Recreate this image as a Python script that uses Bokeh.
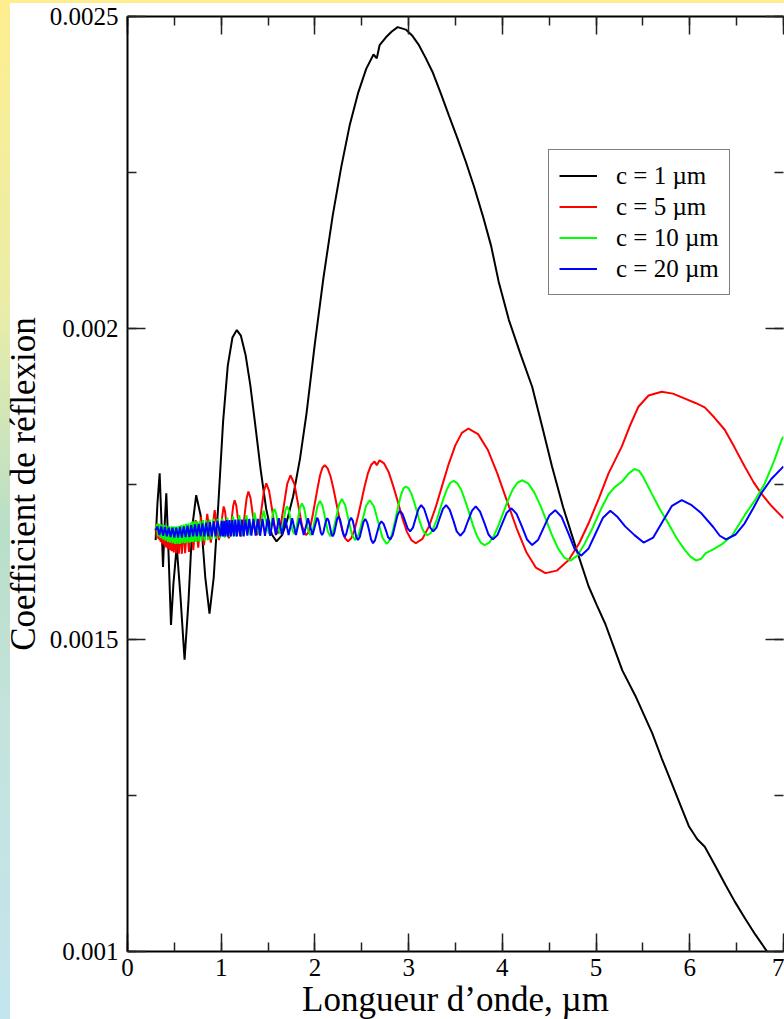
from bokeh.plotting import figure
from bokeh.models import (Range1d, LinearAxis, SingleIntervalTicker,
                          CustomJSTickFormatter, Legend, LegendItem)
from bokeh.embed import file_html
from bokeh.resources import INLINE

FONT = "Liberation Serif"

# ---------------- data ----------------
series_labels = ["c = 1 µm", "c = 5 µm", "c = 10 µm", "c = 20 µm"]
series_colors = ["#000000", "#ff0000", "#00ff00", "#0000ff"]

c1_x = [0.300, 0.320, 0.343, 0.360, 0.379, 0.395, 0.414, 0.440, 0.464, 0.490,
        0.525, 0.565, 0.609, 0.650, 0.690, 0.733, 0.780, 0.830, 0.875, 0.920,
        0.970, 1.020, 1.070, 1.120, 1.166, 1.210, 1.260, 1.310, 1.360, 1.420,
        1.480, 1.540, 1.590, 1.650, 1.700, 1.767, 1.840, 1.910, 2.000, 2.090,
        2.190, 2.280, 2.370, 2.460, 2.547, 2.625, 2.660, 2.690, 2.760, 2.820,
        2.883, 2.970, 3.040, 3.110, 3.180, 3.255, 3.340, 3.430, 3.520, 3.610,
        3.700, 3.790, 3.880, 3.960, 4.070, 4.190, 4.318, 4.420, 4.530, 4.650,
        4.780, 4.920, 5.010, 5.100, 5.190, 5.280, 5.420, 5.510, 5.600, 5.700,
        5.810, 5.900, 5.990, 6.080, 6.160, 6.270, 6.380, 6.480, 6.590, 6.700,
        6.820, 6.950]
c1_y = [0.001660, 0.001720, 0.001767, 0.001700, 0.001617, 0.001680, 0.001735, 0.001630, 0.001524, 0.001590,
        0.001650, 0.001570, 0.001468, 0.001560, 0.001680, 0.001732, 0.001700, 0.001600, 0.001542, 0.001600,
        0.001720, 0.001850, 0.001940, 0.001985, 0.001997, 0.001988, 0.001957, 0.001909, 0.001849, 0.001774,
        0.001710, 0.001669, 0.001658, 0.001668, 0.001690, 0.001730, 0.001790, 0.001863, 0.001976, 0.002080,
        0.002181, 0.002258, 0.002325, 0.002377, 0.002416, 0.002439, 0.002433, 0.002454, 0.002467, 0.002476,
        0.002483, 0.002479, 0.002469, 0.002454, 0.002434, 0.002411, 0.002378, 0.002341, 0.002305, 0.002267,
        0.002226, 0.002181, 0.002132, 0.002075, 0.002013, 0.001960, 0.001906, 0.001845, 0.001778, 0.001712,
        0.001650, 0.001586, 0.001555, 0.001525, 0.001488, 0.001451, 0.001410, 0.001380, 0.001350, 0.001310,
        0.001269, 0.001235, 0.001201, 0.001180, 0.001168, 0.001138, 0.001107, 0.001080, 0.001053, 0.001027,
        0.001001, 0.000975]

c5_x = [0.300, 0.305, 0.310, 0.315, 0.320, 0.325, 0.331, 0.336, 0.342, 0.348,
        0.354, 0.360, 0.367, 0.374, 0.381, 0.388, 0.396, 0.404, 0.412, 0.421,
        0.430, 0.440, 0.450, 0.460, 0.471, 0.482, 0.494, 0.506, 0.519, 0.533,
        0.548, 0.563, 0.580, 0.597, 0.615, 0.635, 0.656, 0.678, 0.702, 0.727,
        0.755, 0.784, 0.816, 0.851, 0.889, 0.930, 0.976, 1.026, 1.040, 1.054,
        1.067, 1.081, 1.097, 1.112, 1.128, 1.143, 1.160, 1.178, 1.195, 1.212,
        1.232, 1.251, 1.271, 1.290, 1.312, 1.335, 1.357, 1.379, 1.405, 1.430,
        1.456, 1.481, 1.511, 1.541, 1.570, 1.600, 1.635, 1.670, 1.704, 1.739,
        1.781, 1.822, 1.864, 1.905, 1.930, 1.955, 1.980, 2.005, 2.030, 2.055,
        2.080, 2.105, 2.136, 2.167, 2.198, 2.229, 2.260, 2.291, 2.322, 2.353,
        2.388, 2.424, 2.459, 2.495, 2.530, 2.565, 2.601, 2.636, 2.660, 2.690,
        2.738, 2.787, 2.835, 2.884, 2.932, 2.980, 3.029, 3.077, 3.147, 3.217,
        3.287, 3.357, 3.427, 3.498, 3.568, 3.638, 3.741, 3.844, 3.946, 4.049,
        4.152, 4.255, 4.357, 4.460, 4.580, 4.708, 4.820, 4.920, 5.030, 5.133,
        5.274, 5.360, 5.452, 5.560, 5.700, 5.820, 5.948, 6.060, 6.160, 6.260,
        6.373, 6.480, 6.586, 6.680, 6.762, 6.870, 6.980, 7.000]
c5_y = [0.001675, 0.001685, 0.001665, 0.001686, 0.001664, 0.001686, 0.001662, 0.001685, 0.001660, 0.001684,
        0.001657, 0.001683, 0.001655, 0.001682, 0.001653, 0.001681, 0.001650, 0.001680, 0.001648, 0.001679,
        0.001646, 0.001678, 0.001644, 0.001677, 0.001642, 0.001676, 0.001640, 0.001676, 0.001639, 0.001677,
        0.001638, 0.001678, 0.001638, 0.001680, 0.001639, 0.001683, 0.001641, 0.001687, 0.001644, 0.001692,
        0.001648, 0.001697, 0.001652, 0.001702, 0.001656, 0.001708, 0.001660, 0.001714, 0.001707, 0.001689,
        0.001670, 0.001663, 0.001672, 0.001694, 0.001715, 0.001724, 0.001716, 0.001695, 0.001674, 0.001666,
        0.001677, 0.001702, 0.001727, 0.001738, 0.001728, 0.001703, 0.001678, 0.001668, 0.001680, 0.001710,
        0.001739, 0.001751, 0.001739, 0.001711, 0.001682, 0.001670, 0.001684, 0.001717, 0.001750, 0.001764,
        0.001750, 0.001716, 0.001682, 0.001668, 0.001672, 0.001684, 0.001703, 0.001724, 0.001745, 0.001764,
        0.001776, 0.001780, 0.001775, 0.001762, 0.001742, 0.001719, 0.001696, 0.001676, 0.001663, 0.001658,
        0.001663, 0.001677, 0.001698, 0.001722, 0.001746, 0.001767, 0.001781, 0.001786, 0.001780, 0.001788,
        0.001783, 0.001769, 0.001747, 0.001722, 0.001696, 0.001674, 0.001660, 0.001655, 0.001662, 0.001682,
        0.001712, 0.001747, 0.001782, 0.001812, 0.001832, 0.001839, 0.001830, 0.001805, 0.001767, 0.001723,
        0.001679, 0.001641, 0.001616, 0.001607, 0.001611, 0.001628, 0.001655, 0.001687, 0.001727, 0.001767,
        0.001810, 0.001843, 0.001874, 0.001892, 0.001898, 0.001895, 0.001887, 0.001880, 0.001873, 0.001857,
        0.001837, 0.001808, 0.001778, 0.001753, 0.001735, 0.001715, 0.001698, 0.001695]

c10_x = [0.300, 0.313, 0.326, 0.339, 0.352, 0.365, 0.378, 0.391, 0.404, 0.417,
         0.430, 0.443, 0.456, 0.469, 0.482, 0.495, 0.508, 0.521, 0.534, 0.547,
         0.560, 0.573, 0.586, 0.599, 0.612, 0.625, 0.638, 0.651, 0.664, 0.677,
         0.686, 0.694, 0.706, 0.719, 0.732, 0.746, 0.760, 0.775, 0.790, 0.806,
         0.823, 0.840, 0.858, 0.877, 0.897, 0.918, 0.940, 0.962, 0.986, 1.011,
         1.037, 1.065, 1.094, 1.125, 1.158, 1.192, 1.229, 1.268, 1.310, 1.355,
         1.403, 1.453, 1.509, 1.524, 1.539, 1.553, 1.568, 1.584, 1.600, 1.616,
         1.632, 1.650, 1.667, 1.685, 1.702, 1.721, 1.740, 1.759, 1.778, 1.799,
         1.820, 1.840, 1.861, 1.884, 1.907, 1.929, 1.952, 1.977, 2.003, 2.028,
         2.053, 2.081, 2.109, 2.137, 2.165, 2.196, 2.227, 2.257, 2.288, 2.323,
         2.358, 2.393, 2.428, 2.467, 2.507, 2.546, 2.585, 2.630, 2.675, 2.720,
         2.765, 2.791, 2.817, 2.842, 2.868, 2.894, 2.920, 2.945, 2.971, 3.000,
         3.028, 3.057, 3.086, 3.114, 3.143, 3.171, 3.200, 3.235, 3.270, 3.305,
         3.340, 3.375, 3.410, 3.445, 3.480, 3.521, 3.563, 3.604, 3.645, 3.686,
         3.728, 3.769, 3.810, 3.860, 3.910, 3.960, 4.010, 4.060, 4.110, 4.160,
         4.210, 4.275, 4.339, 4.404, 4.468, 4.532, 4.597, 4.661, 4.726, 4.800,
         4.870, 4.955, 5.050, 5.135, 5.200, 5.277, 5.350, 5.410, 5.460, 5.500,
         5.593, 5.680, 5.770, 5.860, 5.948, 6.010, 6.070, 6.120, 6.170, 6.250,
         6.340, 6.450, 6.586, 6.700, 6.800, 6.900, 6.980, 7.000]
c10_y = [0.001676, 0.001686, 0.001666, 0.001686, 0.001663, 0.001685, 0.001661, 0.001684, 0.001659, 0.001683,
         0.001657, 0.001682, 0.001656, 0.001682, 0.001655, 0.001682, 0.001654, 0.001682, 0.001654, 0.001683,
         0.001654, 0.001684, 0.001655, 0.001685, 0.001655, 0.001686, 0.001656, 0.001687, 0.001656, 0.001688,
         0.001657, 0.001690, 0.001657, 0.001690, 0.001657, 0.001690, 0.001658, 0.001691, 0.001658, 0.001692,
         0.001659, 0.001692, 0.001660, 0.001693, 0.001661, 0.001694, 0.001662, 0.001694, 0.001663, 0.001695,
         0.001664, 0.001696, 0.001665, 0.001698, 0.001666, 0.001700, 0.001667, 0.001700, 0.001668, 0.001704,
         0.001669, 0.001707, 0.001670, 0.001676, 0.001690, 0.001704, 0.001710, 0.001704, 0.001690, 0.001676,
         0.001670, 0.001676, 0.001692, 0.001708, 0.001714, 0.001708, 0.001692, 0.001676, 0.001670, 0.001677,
         0.001695, 0.001712, 0.001719, 0.001712, 0.001694, 0.001675, 0.001668, 0.001676, 0.001696, 0.001715,
         0.001723, 0.001715, 0.001695, 0.001674, 0.001666, 0.001675, 0.001696, 0.001717, 0.001726, 0.001716,
         0.001693, 0.001670, 0.001660, 0.001669, 0.001692, 0.001715, 0.001724, 0.001714, 0.001689, 0.001664,
         0.001654, 0.001658, 0.001667, 0.001682, 0.001700, 0.001718, 0.001733, 0.001743, 0.001746, 0.001743,
         0.001735, 0.001722, 0.001707, 0.001692, 0.001679, 0.001671, 0.001668, 0.001671, 0.001681, 0.001695,
         0.001712, 0.001728, 0.001742, 0.001752, 0.001755, 0.001751, 0.001740, 0.001723, 0.001704, 0.001684,
         0.001667, 0.001656, 0.001652, 0.001656, 0.001667, 0.001684, 0.001704, 0.001724, 0.001741, 0.001752,
         0.001756, 0.001751, 0.001737, 0.001716, 0.001692, 0.001667, 0.001646, 0.001632, 0.001627, 0.001635,
         0.001652, 0.001677, 0.001709, 0.001734, 0.001745, 0.001754, 0.001767, 0.001774, 0.001771, 0.001762,
         0.001735, 0.001710, 0.001687, 0.001663, 0.001644, 0.001633, 0.001627, 0.001630, 0.001639, 0.001645,
         0.001653, 0.001667, 0.001700, 0.001725, 0.001751, 0.001787, 0.001821, 0.001826]

c20_x = [0.300, 0.320, 0.340, 0.360, 0.380, 0.400, 0.420, 0.440, 0.460, 0.480,
         0.500, 0.520, 0.540, 0.560, 0.580, 0.600, 0.620, 0.640, 0.660, 0.680,
         0.700, 0.720, 0.740, 0.760, 0.780, 0.800, 0.820, 0.840, 0.860, 0.880,
         0.900, 0.920, 0.940, 0.960, 0.993, 1.006, 1.019, 1.032, 1.045, 1.059,
         1.073, 1.088, 1.103, 1.118, 1.134, 1.151, 1.167, 1.185, 1.203, 1.221,
         1.240, 1.259, 1.279, 1.300, 1.322, 1.344, 1.367, 1.391, 1.415, 1.441,
         1.467, 1.495, 1.523, 1.553, 1.583, 1.615, 1.649, 1.683, 1.719, 1.757,
         1.797, 1.838, 1.881, 1.926, 1.974, 2.024, 2.037, 2.050, 2.063, 2.076,
         2.090, 2.104, 2.118, 2.132, 2.146, 2.161, 2.175, 2.190, 2.205, 2.221,
         2.236, 2.252, 2.268, 2.285, 2.301, 2.317, 2.334, 2.352, 2.369, 2.386,
         2.404, 2.423, 2.441, 2.459, 2.479, 2.498, 2.518, 2.537, 2.558, 2.579,
         2.599, 2.620, 2.642, 2.665, 2.687, 2.709, 2.733, 2.757, 2.780, 2.804,
         2.830, 2.855, 2.881, 2.906, 2.934, 2.961, 2.989, 3.016, 3.046, 3.075,
         3.105, 3.134, 3.166, 3.198, 3.230, 3.262, 3.297, 3.331, 3.366, 3.400,
         3.438, 3.476, 3.513, 3.551, 3.592, 3.634, 3.675, 3.716, 3.761, 3.807,
         3.852, 3.897, 3.947, 3.997, 4.047, 4.097, 4.152, 4.208, 4.263, 4.318,
         4.380, 4.441, 4.503, 4.564, 4.633, 4.702, 4.771, 4.840, 4.918, 4.996,
         5.074, 5.152, 5.230, 5.310, 5.410, 5.507, 5.610, 5.710, 5.810, 5.914,
         6.020, 6.124, 6.250, 6.320, 6.386, 6.490, 6.586, 6.680, 6.762, 6.870,
         6.980, 7.000]
c20_y = [0.001676, 0.001682, 0.001668, 0.001682, 0.001667, 0.001681, 0.001666, 0.001680, 0.001665, 0.001680,
         0.001664, 0.001680, 0.001664, 0.001681, 0.001664, 0.001682, 0.001665, 0.001683, 0.001665, 0.001684,
         0.001666, 0.001685, 0.001666, 0.001686, 0.001666, 0.001687, 0.001666, 0.001688, 0.001666, 0.001689,
         0.001666, 0.001690, 0.001666, 0.001691, 0.001666, 0.001691, 0.001666, 0.001691, 0.001666, 0.001692,
         0.001666, 0.001692, 0.001666, 0.001692, 0.001666, 0.001693, 0.001666, 0.001693, 0.001666, 0.001693,
         0.001666, 0.001693, 0.001667, 0.001694, 0.001667, 0.001694, 0.001667, 0.001694, 0.001667, 0.001694,
         0.001667, 0.001695, 0.001667, 0.001695, 0.001668, 0.001695, 0.001668, 0.001695, 0.001668, 0.001695,
         0.001668, 0.001695, 0.001668, 0.001695, 0.001668, 0.001696, 0.001692, 0.001682, 0.001672, 0.001668,
         0.001672, 0.001682, 0.001691, 0.001695, 0.001691, 0.001681, 0.001670, 0.001666, 0.001671, 0.001682,
         0.001693, 0.001698, 0.001693, 0.001682, 0.001670, 0.001665, 0.001670, 0.001681, 0.001691, 0.001696,
         0.001691, 0.001678, 0.001665, 0.001660, 0.001665, 0.001677, 0.001689, 0.001694, 0.001688, 0.001675,
         0.001661, 0.001655, 0.001660, 0.001673, 0.001685, 0.001690, 0.001686, 0.001676, 0.001665, 0.001661,
         0.001668, 0.001684, 0.001700, 0.001707, 0.001702, 0.001691, 0.001679, 0.001674, 0.001680, 0.001695,
         0.001710, 0.001716, 0.001710, 0.001695, 0.001680, 0.001674, 0.001680, 0.001695, 0.001710, 0.001716,
         0.001709, 0.001692, 0.001674, 0.001667, 0.001674, 0.001691, 0.001707, 0.001714, 0.001706, 0.001688,
         0.001669, 0.001661, 0.001668, 0.001686, 0.001704, 0.001711, 0.001702, 0.001682, 0.001661, 0.001652,
         0.001660, 0.001680, 0.001700, 0.001708, 0.001697, 0.001672, 0.001646, 0.001635, 0.001646, 0.001671,
         0.001696, 0.001707, 0.001697, 0.001682, 0.001668, 0.001656, 0.001664, 0.001690, 0.001715, 0.001724,
         0.001716, 0.001703, 0.001681, 0.001667, 0.001661, 0.001669, 0.001687, 0.001712, 0.001735, 0.001758,
         0.001775, 0.001778]

x_tick_labels = ["0", "1", "2", "3", "4", "5", "6", "7"]
y_tick_labels = ["0.001", "0.0015", "0.002", "0.0025"]

# ---------------- figure ----------------
p = figure(frame_width=656, frame_height=935,
           min_border_left=127, min_border_right=1,
           min_border_top=16, min_border_bottom=68,
           x_range=Range1d(0, 7), y_range=Range1d(0.001, 0.0025),
           output_backend="svg", toolbar_location=None,
           x_axis_label="Longueur d’onde, µm",
           y_axis_label="Coefficient de réflexion")
p.grid.visible = False
p.outline_line_color = None
p.background_fill_color = "white"
p.border_fill_alpha = 0.0

xfmt = CustomJSTickFormatter(args=dict(labels=x_tick_labels),
                             code="return labels[Math.round(tick)] || '';")
yfmt = CustomJSTickFormatter(args=dict(labels=y_tick_labels),
                             code="return labels[Math.round((tick - 0.001) / 0.0005)] || '';")


def style(ax, ticker, fmt=None, show_labels=True):
    ax.ticker = ticker
    if fmt is not None:
        ax.formatter = fmt
    ax.axis_line_color = "black"
    ax.axis_line_width = 2
    ax.major_tick_in = 18
    ax.major_tick_out = 0
    ax.minor_tick_in = 9
    ax.minor_tick_out = 0
    ax.major_tick_line_color = "#222222"
    ax.minor_tick_line_color = "#222222"
    ax.major_tick_line_width = 1.5
    ax.minor_tick_line_width = 1.5
    ax.major_label_text_font = FONT
    ax.major_label_text_color = "black"
    ax.axis_label_text_font = FONT
    ax.axis_label_text_font_style = "normal"
    ax.axis_label_text_color = "black"
    ax.axis_label_text_font_size = "35px"
    if show_labels:
        ax.major_label_text_font_size = "25px"
    else:
        ax.major_label_text_font_size = "0px"
        ax.major_label_text_color = None
        ax.major_label_standoff = 0
        ax.axis_label_standoff = 0


def xt():
    return SingleIntervalTicker(interval=1, num_minor_ticks=2)


def yt():
    return SingleIntervalTicker(interval=0.0005, num_minor_ticks=2)


bx = p.xaxis[0]
style(bx, xt(), xfmt)
bx.major_label_standoff = 7
bx.axis_label_standoff = 1

ly = p.yaxis[0]
style(ly, yt(), yfmt)
ly.major_label_standoff = 9
ly.axis_label_standoff = 4

top = LinearAxis()
style(top, xt(), xfmt, show_labels=False)
p.add_layout(top, "above")
right = LinearAxis()
style(right, yt(), yfmt, show_labels=False)
right.axis_line_color = None
p.add_layout(right, "right")

xs = [c1_x, c5_x, c10_x, c20_x]
ys = [c1_y, c5_y, c10_y, c20_y]
renderers = []
for sx, sy, col in zip(xs, ys, series_colors):
    r = p.line(sx, sy, line_color=col, line_width=2)
    renderers.append(r)

legend = Legend(items=[LegendItem(label=lab, renderers=[r])
                       for lab, r in zip(series_labels, renderers)],
                location=(421, 656))
legend.border_line_color = "black"
legend.border_line_width = 1
legend.background_fill_color = "white"
legend.background_fill_alpha = 1.0
legend.label_text_font = FONT
legend.label_text_font_size = "25px"
legend.label_text_color = "black"
legend.glyph_width = 38
legend.glyph_height = 31
legend.label_height = 31
legend.label_standoff = 19
legend.padding = 10
legend.spacing = 0
legend.margin = 0
p.add_layout(legend)

html = file_html(p, INLINE)
css = ("<style>html,body{margin:0;padding:0;overflow:hidden;}"
       "body{background:"
       "linear-gradient(#ffffff,#ffffff) 10px 3px / calc(100% - 10px) calc(100% - 3px) no-repeat,"
       "linear-gradient(180deg,#ffee90 0%,#eaeda8 30%,#b8dfc8 52%,#c4e3dc 70%,#c3e5ee 100%);}"
       "</style></head>")
html = html.replace("</head>", css, 1)
open("out.html", "w").write(html)
